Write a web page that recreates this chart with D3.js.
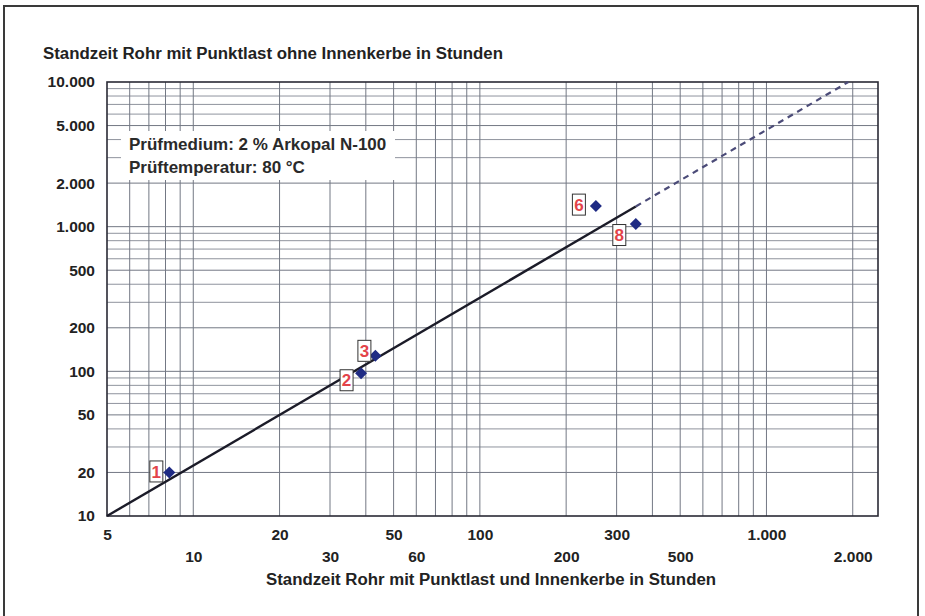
<!DOCTYPE html>
<html>
<head>
<meta charset="utf-8">
<script src="https://cdn.jsdelivr.net/npm/d3@7"></script>
<style>
    body { margin: 0; background: #fff; }
    svg { display: block; font-family: "Liberation Sans", Arial, sans-serif; }
    .grid line { stroke: #737884; stroke-width: 1; }
    .axis text { font-size: 15.5px; font-weight: bold; fill: #222; }
    .title { font-size: 16px; font-weight: bold; fill: #222; }
    .note { font-size: 17px; font-weight: bold; fill: #2a2a2a; }
    .pt-label text { font-size: 17px; font-weight: bold; fill: #e3434a; }
</style>
</head>
<body>
<svg id="chart"></svg>
<script>
// point numbers and measured service lives (hours)
const pointIds = ['1', '2', '3', '6', '8'];
const withNotch = [8.25, 38.5, 43.2, 254, 350];      // x: Punktlast und Innenkerbe
const withoutNotch = [20, 97, 128, 1387, 1043];      // y: Punktlast ohne Innenkerbe

// regression line, solid part then dashed extrapolation
const fitX = [5, 350];
const fitY = [10, 1380];
const extX = [350, 1930];
const extY = [1380, 10000];

const xDomain = [5, 2450];
const yDomain = [10, 10000];
const yTickValues = [10, 20, 50, 100, 200, 500, 1000, 2000, 5000, 10000];
const xTicksUpper = [5, 20, 50, 100, 300, 1000];
const xTicksLower = [10, 30, 60, 200, 500, 2000];

const titleY = 'Standzeit Rohr mit Punktlast ohne Innenkerbe in Stunden';
const titleX = 'Standzeit Rohr mit Punktlast und Innenkerbe in Stunden';
const noteLines = ['Prüfmedium: 2 % Arkopal N-100', 'Prüftemperatur: 80 °C'];

const width = 925, height = 616;
const margin = { top: 82, right: 47, bottom: 100, left: 107 };
const innerW = width - margin.left - margin.right;
const innerH = height - margin.top - margin.bottom;

const de = d3.formatLocale({ decimal: ',', thousands: '.', grouping: [3], currency: ['', ' €'] });
const fmt = de.format(',');

const svg = d3.select('#chart')
    .attr('width', width)
    .attr('height', height);

// outer frame of the scanned page
svg.append('rect')
    .attr('x', 4).attr('y', 6)
    .attr('width', 914).attr('height', 640)
    .attr('fill', 'none')
    .attr('stroke', '#3a3a3a')
    .attr('stroke-width', 2);

const xScale = d3.scaleLog().domain(xDomain).range([0, innerW]);
const yScale = d3.scaleLog().domain(yDomain).range([innerH, 0]);

const chartArea = svg.append('g')
    .attr('transform', `translate(${margin.left},${margin.top})`);

// log grid, one line for every 1..9 step of each decade
chartArea.append('g').attr('class', 'grid')
    .selectAll('line.v')
    .data(xScale.ticks().filter(d => d > xDomain[0]))
    .join('line')
    .attr('x1', d => xScale(d)).attr('x2', d => xScale(d))
    .attr('y1', 0).attr('y2', innerH);

chartArea.append('g').attr('class', 'grid')
    .selectAll('line.h')
    .data(yScale.ticks().filter(d => d > yDomain[0] && d < yDomain[1]))
    .join('line')
    .attr('x1', 0).attr('x2', innerW)
    .attr('y1', d => yScale(d)).attr('y2', d => yScale(d))
    .attr('stroke-opacity', d => [1, 2, 5].includes(d / Math.pow(10, Math.floor(Math.log10(d) + 1e-9))) ? 1 : 0.8);

// plot frame
chartArea.append('rect')
    .attr('width', innerW).attr('height', innerH)
    .attr('fill', 'none')
    .attr('stroke', '#2a2a35')
    .attr('stroke-width', 1.6);

// white box with test conditions
const noteG = chartArea.append('g');
noteG.append('rect')
    .attr('x', 14).attr('y', 49)
    .attr('width', 274).attr('height', 49)
    .attr('fill', '#fff');
noteG.selectAll('text')
    .data(noteLines)
    .join('text')
    .attr('class', 'note')
    .attr('x', 22)
    .attr('y', (d, i) => 68 + i * 23)
    .text(d => d);

// regression line
const line = d3.line()
    .x(d => xScale(d[0]))
    .y(d => yScale(d[1]));

chartArea.append('path')
    .datum(d3.zip(fitX, fitY))
    .attr('d', line)
    .attr('fill', 'none')
    .attr('stroke', '#1b1b28')
    .attr('stroke-width', 2.4);

chartArea.append('path')
    .datum(d3.zip(extX, extY))
    .attr('d', line)
    .attr('fill', 'none')
    .attr('stroke', '#4b4b78')
    .attr('stroke-width', 2.2)
    .attr('stroke-dasharray', '6,5');

// data points
const points = pointIds.map((id, i) => ({ id, x: withNotch[i], y: withoutNotch[i] }));

chartArea.selectAll('.pt')
    .data(points)
    .join('path')
    .attr('class', 'pt')
    .attr('d', d3.symbol(d3.symbolSquare, 72))
    .attr('transform', d => `translate(${xScale(d.x)},${yScale(d.y)}) rotate(45)`)
    .attr('fill', '#1f2b84');

// where each number box sits relative to its point
const labelOffset = { '1': [-13, -1], '2': [-14.5, 7], '3': [-11, -5], '6': [-17, -1.5], '8': [-16.5, 11] };

const labels = chartArea.selectAll('.pt-label')
    .data(points)
    .join('g')
    .attr('class', 'pt-label')
    .attr('transform', d => `translate(${xScale(d.x) + labelOffset[d.id][0]},${yScale(d.y) + labelOffset[d.id][1]})`);

labels.append('rect')
    .attr('x', -6.5).attr('y', -10.5)
    .attr('width', 13).attr('height', 21)
    .attr('fill', '#fff')
    .attr('stroke', '#333')
    .attr('stroke-width', 1);

labels.append('text')
    .attr('text-anchor', 'middle')
    .attr('dy', '0.36em')
    .text(d => d.id);

// axes
const yAxis = d3.axisLeft(yScale)
    .tickValues(yTickValues)
    .tickFormat(fmt)
    .tickSize(0)
    .tickPadding(12);

chartArea.append('g')
    .attr('class', 'axis y-axis')
    .call(yAxis)
    .call(g => g.select('.domain').remove());

const xAxisUpper = d3.axisBottom(xScale)
    .tickValues(xTicksUpper)
    .tickFormat(fmt)
    .tickSize(0)
    .tickPadding(13);

const xAxisLower = d3.axisBottom(xScale)
    .tickValues(xTicksLower)
    .tickFormat(fmt)
    .tickSize(0)
    .tickPadding(35);

chartArea.append('g')
    .attr('class', 'axis x-axis')
    .attr('transform', `translate(0,${innerH})`)
    .call(xAxisUpper)
    .call(g => g.select('.domain').remove());

chartArea.append('g')
    .attr('class', 'axis x-axis')
    .attr('transform', `translate(0,${innerH})`)
    .call(xAxisLower)
    .call(g => g.select('.domain').remove());

// titles, stretched to the width of the scanned lettering
svg.append('text')
    .attr('class', 'title')
    .attr('x', 43)
    .attr('y', 59)
    .attr('textLength', 460)
    .attr('lengthAdjust', 'spacingAndGlyphs')
    .text(titleY);

svg.append('text')
    .attr('class', 'title')
    .attr('x', 266)
    .attr('y', 585)
    .attr('textLength', 450)
    .attr('lengthAdjust', 'spacingAndGlyphs')
    .text(titleX);
</script>
</body>
</html>
